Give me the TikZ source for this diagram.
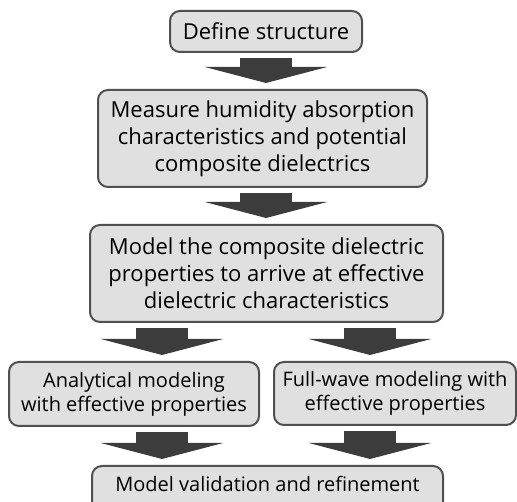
\documentclass[tikz,border=0pt]{standalone}
\usepackage{fontspec}
\setmainfont{Open Sans}
\usetikzlibrary{arrows.meta}
\definecolor{boxfill}{HTML}{E0E0E0}
\definecolor{boxline}{HTML}{505050}
\definecolor{arrowfill}{HTML}{3C3C3C}
\tikzset{
  stepbox/.style={draw=boxline, fill=boxfill, line width=2pt, rounded corners=10pt,
    align=center, inner sep=0pt, font=\fontsize{22}{27}\selectfont},
  smallbox/.style={stepbox, font=\fontsize{20}{24}\selectfont},
  blockarrow/.style={arrowfill, line width=52pt, shorten <=5pt, shorten >=6pt,
    -{Triangle[length=16pt, width=122pt]}}
}
\begin{document}
\begin{tikzpicture}[x=1pt, y=-1pt]

  \useasboundingbox (0,0) rectangle (517,502);

  \newcommand\XL{162};
  \newcommand\XR{370};

  \node[stepbox, minimum width=192pt, minimum height=41pt] (define) at (266,31.5)
  {Define structure};
  \node[stepbox, minimum width=329pt, minimum height=97pt] (measure) at (262.5,138.5)
  {Measure humidity absorption\\characteristics and potential\\composite dielectrics};
  \node[stepbox, minimum width=353pt, minimum height=97pt] (model) at (266.5,273.5)
  {Model the composite dielectric\\properties to arrive at effective\\dielectric characteristics};
  \node[smallbox, minimum width=250pt, minimum height=64pt] (analytic) at (134,394)
  {Analytical modeling\\with effective properties};
  \node[smallbox, minimum width=242pt, minimum height=63pt] (fullwave) at (395,393.5)
  {Full-wave modeling with\\effective properties};
  \node[smallbox, minimum width=351pt, minimum height=60pt, text height=16pt,
    text depth=24pt, anchor=north] (validate) at (267.5,465)
  {Model validation and refinement};

  \coordinate (cl) at (\XL,0);
  \coordinate (cr) at (\XR,0);

  \draw[blockarrow] (define.south -| 266,0) -- (measure.north -| 266,0);
  \draw[blockarrow] (measure.south -| 266,0) -- (model.north -| 266,0);
  \draw[blockarrow] (model.south -| cl) -- (analytic.north -| cl);
  \draw[blockarrow] (model.south -| cr) -- (fullwave.north -| cr);
  \draw[blockarrow] (analytic.south -| cl) -- (validate.north -| cl);
  \draw[blockarrow] (fullwave.south -| cr) -- (validate.north -| cr);

\end{tikzpicture}
\end{document}
